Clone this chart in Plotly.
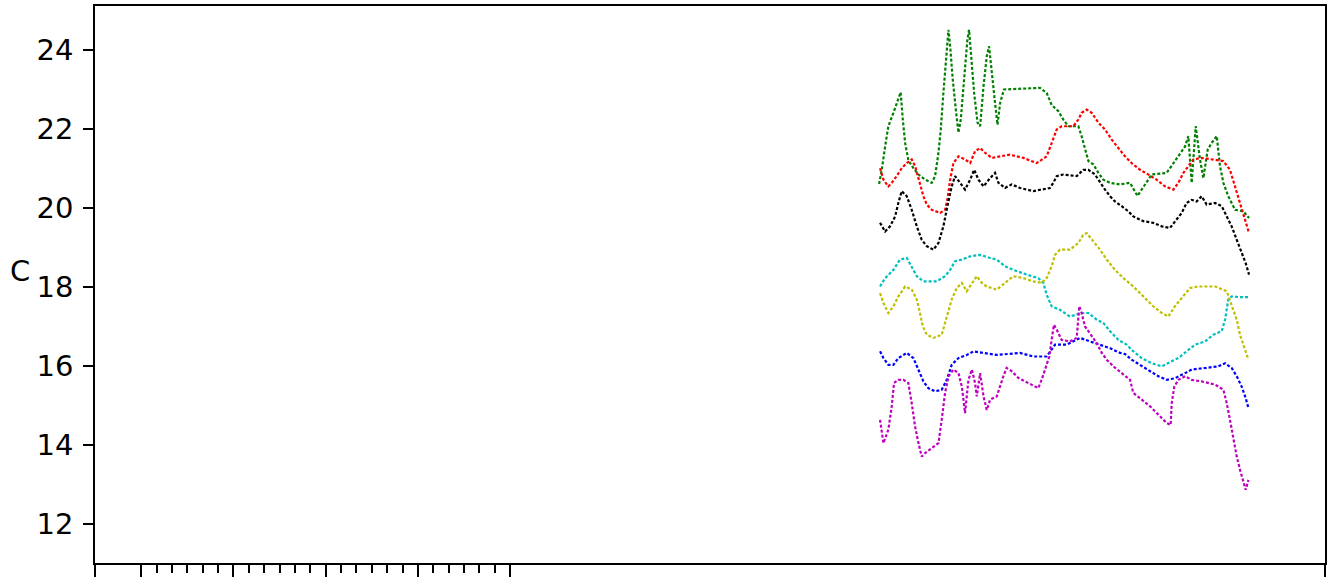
import plotly.graph_objects as go

# hours on the x axis, temperature (C) on the y axis
green_x = [51.0, 51.17, 51.39, 51.6, 51.93, 52.25, 52.4, 52.54, 52.69, 52.9, 53.23, 53.56, 53.99, 54.42, 54.64,
           54.86, 55.01, 55.18, 55.36, 55.51, 55.62, 55.79, 56.01, 56.16, 56.31, 56.53, 56.74, 56.85, 56.98, 57.18,
           57.4, 57.57, 57.79, 58.0, 58.15, 58.33, 58.54, 58.7, 58.87, 59.12, 61.46, 61.9, 62.22, 62.66, 62.98,
           63.3, 63.96, 64.17, 64.39, 64.61, 64.93, 65.26, 65.58, 66.02, 66.67, 67.32, 67.8, 68.29, 68.73, 69.7,
           70.14, 70.57, 70.9, 71.11, 71.33, 71.59, 71.87, 72.09, 72.37, 72.63, 72.96, 73.17, 73.39, 73.71, 74.15,
           74.69, 75.06]
green_y = [20.6, 20.96, 21.55, 22.06, 22.4, 22.74, 22.92, 22.23, 21.64, 21.2, 21.0, 20.84, 20.71, 20.63, 20.8,
           21.39, 21.98, 22.9, 23.92, 24.5, 24.08, 23.24, 22.4, 21.9, 22.23, 23.24, 24.25, 24.5, 23.92, 22.9,
           22.15, 22.06, 23.07, 23.83, 24.08, 23.49, 22.65, 22.1, 22.65, 22.99, 23.03, 22.9, 22.6, 22.44, 22.23,
           22.06, 22.06, 21.81, 21.47, 21.18, 21.1, 20.88, 20.71, 20.63, 20.59, 20.63, 20.3, 20.59, 20.84, 20.88,
           21.13, 21.39, 21.55, 21.81, 20.63, 22.06, 21.22, 20.75, 21.47, 21.64, 21.81, 21.05, 20.63, 20.29, 19.95,
           19.91, 19.74]

red_x = [51.06, 51.28, 51.6, 51.82, 52.14, 52.47, 52.8, 53.12, 53.34, 53.66, 53.88, 54.1, 54.42, 54.97, 55.29,
         55.44, 55.62, 55.83, 56.16, 56.59, 56.92, 57.24, 57.57, 57.89, 58.33, 58.87, 59.51, 60.38, 61.25, 61.9,
         62.22, 62.55, 62.87, 63.63, 63.96, 64.17, 64.5, 64.83, 65.26, 65.69, 66.13, 66.56, 66.99, 67.42, 67.97,
         68.51, 69.05, 69.59, 70.14, 70.46, 70.79, 71.11, 71.44, 71.98, 72.74, 73.39, 73.82, 74.15, 74.47, 74.8,
         75.06]
red_y = [21.0, 20.71, 20.54, 20.63, 20.8, 21.0, 21.13, 21.22, 21.05, 20.63, 20.29, 20.08, 19.95, 19.87, 19.95,
         20.2, 20.71, 21.13, 21.3, 21.22, 21.13, 21.43, 21.51, 21.39, 21.26, 21.3, 21.34, 21.26, 21.13, 21.3,
         21.64, 21.98, 22.06, 22.06, 22.23, 22.4, 22.48, 22.4, 22.15, 21.98, 21.72, 21.51, 21.3, 21.13, 20.96,
         20.84, 20.71, 20.54, 20.46, 20.63, 20.88, 21.05, 21.22, 21.26, 21.22, 21.18, 20.96, 20.54, 20.12, 19.7,
         19.36]

black_x = [51.06, 51.39, 51.71, 52.04, 52.25, 52.47, 52.8, 53.12, 53.45, 53.77, 54.1, 54.53, 54.86, 55.18, 55.44,
           55.72, 55.94, 56.27, 56.59, 56.92, 57.18, 57.46, 57.79, 58.22, 58.54, 58.76, 59.19, 59.62, 60.16, 61.03,
           62.11, 62.33, 62.55, 62.98, 63.85, 64.28, 64.61, 65.04, 65.37, 65.69, 66.02, 66.34, 66.78, 67.21, 67.53,
           68.18, 68.83, 69.38, 69.92, 70.35, 70.68, 71.0, 71.33, 71.65, 71.98, 72.3, 72.85, 73.28, 73.61, 73.93,
           74.26, 74.58, 74.84, 75.06]
black_y = [19.62, 19.4, 19.53, 19.78, 20.12, 20.42, 20.29, 19.95, 19.53, 19.19, 19.03, 18.94, 19.11, 19.53, 20.04,
           20.54, 20.8, 20.63, 20.46, 20.71, 20.96, 20.71, 20.54, 20.75, 20.88, 20.63, 20.5, 20.59, 20.5, 20.42,
           20.5, 20.63, 20.8, 20.84, 20.8, 20.96, 20.96, 20.84, 20.63, 20.46, 20.29, 20.16, 20.04, 19.91, 19.78,
           19.66, 19.62, 19.53, 19.49, 19.7, 19.87, 20.12, 20.2, 20.16, 20.29, 20.08, 20.12, 20.04, 19.78, 19.53,
           19.19, 18.86, 18.6, 18.31]

cyan_x = [51.06, 51.39, 51.93, 52.36, 52.8, 53.12, 53.45, 53.88, 54.75, 55.29, 55.62, 55.94, 56.38, 56.92, 57.57,
          58.22, 58.65, 59.19, 59.73, 60.6, 61.35, 61.68, 61.9, 62.22, 62.76, 63.41, 64.17, 64.61, 65.15, 65.58,
          66.02, 66.56, 67.1, 67.42, 68.07, 68.73, 69.38, 70.03, 70.46, 71.0, 71.55, 72.2, 72.74, 73.28, 73.5,
          73.71, 73.93, 74.47, 75.02]
cyan_y = [18.01, 18.22, 18.43, 18.69, 18.73, 18.52, 18.27, 18.14, 18.14, 18.27, 18.43, 18.65, 18.69, 18.77, 18.81,
          18.73, 18.69, 18.52, 18.43, 18.31, 18.22, 18.1, 17.8, 17.51, 17.42, 17.25, 17.34, 17.34, 17.17, 17.09,
          16.88, 16.66, 16.54, 16.41, 16.2, 16.07, 15.99, 16.12, 16.2, 16.37, 16.54, 16.62, 16.79, 16.88, 17.17,
          17.68, 17.76, 17.74, 17.74]

yellow_x = [51.06, 51.28, 51.6, 51.93, 52.25, 52.69, 53.12, 53.45, 53.66, 53.84, 54.1, 54.53, 55.07, 55.4, 55.72,
            56.05, 56.38, 56.7, 57.03, 57.35, 57.68, 58.0, 58.65, 59.29, 59.73, 60.38, 61.03, 61.57, 61.9, 62.22,
            62.44, 62.76, 63.41, 63.96, 64.28, 64.5, 64.93, 65.37, 65.8, 66.34, 66.89, 67.53, 68.18, 68.83, 69.38,
            69.81, 70.24, 70.79, 71.22, 71.76, 72.85, 73.61, 73.93, 74.26, 74.47, 74.8, 75.02]
yellow_y = [17.84, 17.59, 17.34, 17.51, 17.76, 18.01, 17.93, 17.68, 17.34, 17.0, 16.79, 16.71, 16.79, 17.25, 17.68,
            17.97, 18.1, 17.89, 18.1, 18.27, 18.1, 18.01, 17.93, 18.14, 18.27, 18.22, 18.14, 18.1, 18.22, 18.52,
            18.81, 18.94, 18.94, 19.11, 19.32, 19.36, 19.15, 18.94, 18.69, 18.43, 18.22, 18.01, 17.76, 17.51, 17.34,
            17.25, 17.51, 17.76, 17.97, 18.01, 18.01, 17.89, 17.55, 17.17, 16.79, 16.41, 16.16]

blue_x = [51.06, 51.28, 51.6, 51.93, 52.25, 52.8, 53.23, 53.56, 53.88, 54.2, 54.64, 55.07, 55.4, 55.72, 56.16,
          56.7, 57.14, 57.79, 58.65, 60.16, 61.03, 61.9, 62.11, 62.44, 63.2, 64.07, 64.72, 65.37, 66.02, 66.67,
          67.0, 67.42, 67.97, 68.62, 69.16, 69.7, 70.24, 70.9, 71.33, 72.2, 73.06, 73.5, 73.93, 74.26, 74.58,
          74.84, 75.02]
blue_y = [16.37, 16.2, 16.03, 16.03, 16.2, 16.33, 16.2, 15.91, 15.61, 15.44, 15.36, 15.4, 15.65, 16.03, 16.2,
          16.28, 16.37, 16.33, 16.28, 16.33, 16.24, 16.24, 16.37, 16.54, 16.54, 16.71, 16.62, 16.54, 16.45, 16.33,
          16.3, 16.16, 16.03, 15.86, 15.74, 15.65, 15.69, 15.82, 15.91, 15.95, 15.99, 16.07, 15.95, 15.74, 15.48,
          15.19, 14.94]

magenta_x = [51.06, 51.17, 51.28, 51.6, 51.82, 51.97, 52.25, 52.58, 52.9, 53.12, 53.34, 53.56, 53.77, 53.99, 54.42,
             54.86, 55.07, 55.29, 55.51, 55.83, 56.16, 56.38, 56.59, 56.81, 57.03, 57.24, 57.35, 57.57, 57.79, 58.0,
             58.22, 58.65, 59.08, 59.29, 59.62, 60.05, 60.49, 60.92, 61.35, 61.57, 61.79, 62.07, 62.22, 62.37, 62.55,
             62.87, 63.41, 63.85, 64.02, 64.17, 64.39, 64.72, 65.15, 65.48, 65.8, 66.24, 66.78, 67.32, 67.53, 68.07,
             68.62, 69.16, 69.7, 69.96, 70.03, 70.2, 70.46, 70.9, 71.33, 71.98, 72.85, 73.39, 73.61, 73.82, 74.04,
             74.26, 74.47, 74.69, 74.84, 75.02]
magenta_y = [14.64, 14.3, 14.05, 14.39, 14.98, 15.57, 15.65, 15.65, 15.57, 15.06, 14.47, 14.05, 13.71, 13.8, 13.92,
             14.05, 14.64, 15.32, 15.74, 15.91, 15.82, 15.48, 14.81, 15.65, 15.91, 15.57, 15.23, 15.82, 15.23, 14.89,
             15.15, 15.23, 15.74, 15.95, 15.87, 15.7, 15.61, 15.53, 15.44, 15.65, 15.91, 16.24, 16.66, 17.04, 16.92,
             16.66, 16.62, 16.71, 17.51, 17.34, 17.0, 16.83, 16.58, 16.33, 16.16, 15.99, 15.82, 15.65, 15.32, 15.15,
             14.98, 14.77, 14.56, 14.51, 15.06, 15.48, 15.65, 15.74, 15.65, 15.61, 15.53, 15.4, 15.06, 14.64, 14.13,
             13.71, 13.38, 13.08, 12.87, 13.12]

y_ticks = [12, 14, 16, 18, 20, 22, 24]
x_major = [0, 3, 9, 15, 21, 27, 80]
x_minor = [h for h in range(4, 27) if h not in x_major]

series = [
    (green_x, green_y, "#008000"),
    (red_x, red_y, "#ff0000"),
    (black_x, black_y, "#000000"),
    (cyan_x, cyan_y, "#00bfbf"),
    (yellow_x, yellow_y, "#bfbf00"),
    (blue_x, blue_y, "#0000ff"),
    (magenta_x, magenta_y, "#bf00bf"),
]

fig = go.Figure()
for xs, ys, col in series:
    fig.add_trace(go.Scatter(x=xs, y=ys, mode="lines",
                             line=dict(color=col, width=2.2, dash="3px,2px"),
                             showlegend=False))

font = dict(family="DejaVu Sans", size=29, color="black")
fig.update_layout(
    width=1327, height=579,
    margin=dict(l=95, r=2, t=6, b=16),
    paper_bgcolor="white", plot_bgcolor="white",
    font=font,
    xaxis=dict(range=[0, 80], showgrid=False, zeroline=False,
               showline=True, linecolor="black", linewidth=1.5, mirror=True,
               ticks="outside", tickvals=x_major, ticklen=12, tickwidth=1.5, tickcolor="black",
               showticklabels=False,
               minor=dict(tickvals=x_minor, ticks="outside", ticklen=8, tickwidth=1.5,
                          tickcolor="black", showgrid=False)),
    yaxis=dict(range=[11.02, 25.1], showgrid=False, zeroline=False, automargin=False,
               showline=True, linecolor="black", linewidth=1.5, mirror=True,
               ticks="outside", tickvals=y_ticks, ticklen=10, tickwidth=1.5, tickcolor="black",
               ticklabelstandoff=4, tickfont=font),
    annotations=[dict(text="C", xref="paper", yref="paper", x=-0.061, y=0.49,
                      xanchor="center", yanchor="bottom", showarrow=False, font=font)],
)

# page body has a default margin; drop it so the figure sits at the window corner
fig.write_html("out.html", config={"displayModeBar": False},
               post_script="document.body.style.margin = '0';")
